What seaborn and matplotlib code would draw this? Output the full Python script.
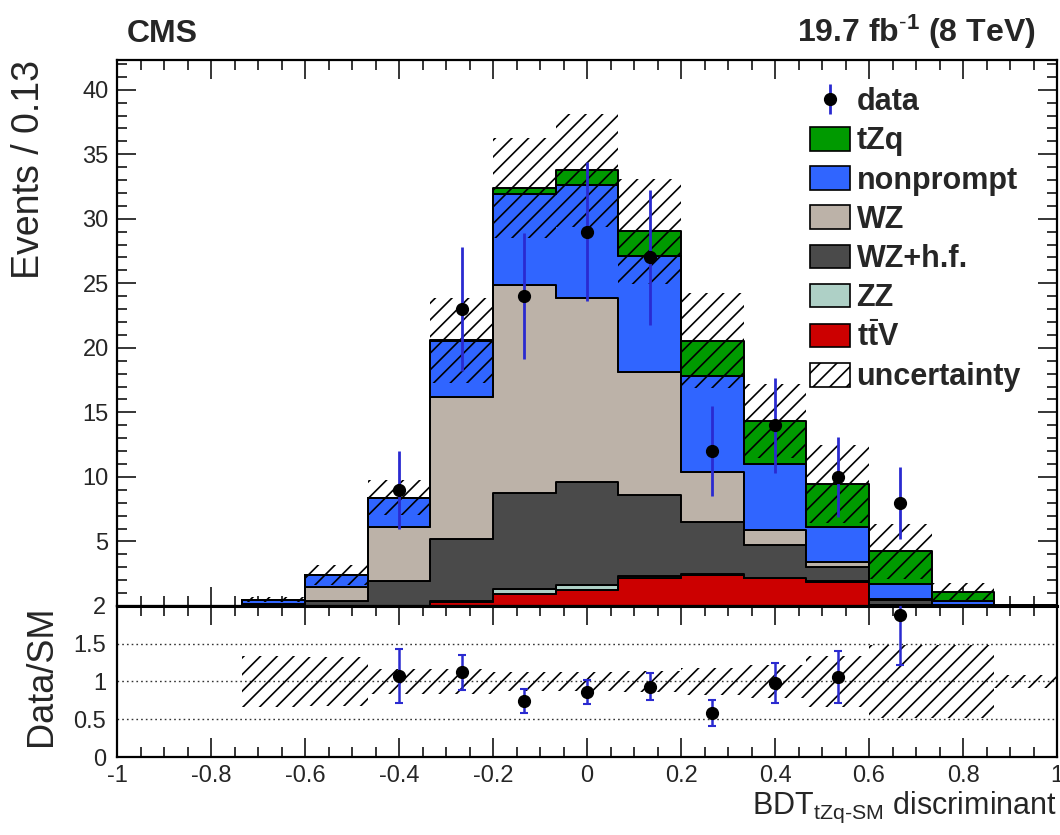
import numpy as np
import pandas as pd
import matplotlib
matplotlib.use("Agg")
import matplotlib.pyplot as plt
import seaborn as sns
from matplotlib.patches import Patch
from matplotlib.ticker import MultipleLocator, FixedLocator, FuncFormatter

# ------------------------------------------------------------------ data
bin_edges = np.linspace(-1.0, 1.0, 16)          # 15 bins of width 0.133
processes = ["tZq", "nonprompt", "WZ", "WZ+h.f.", "ZZ", "ttV"]
legend_labels = ["tZq", "nonprompt", "WZ", "WZ+h.f.", "ZZ",
                 r"$\mathbf{t}\bar{\mathbf{t}}\mathbf{V}$"]

tzq       = [0, 0, 0, 0, 0.04, 0.10, 0.50, 1.15, 1.95, 2.75, 3.30, 3.34, 2.55, 0.74, 0.03]
nonprompt = [0, 0, 0.35, 0.93, 2.22, 4.30, 7.00, 8.70, 9.00, 7.40, 5.10, 2.70, 1.15, 0.31, 0.02]
wz        = [0, 0, 0.10, 1.07, 4.24, 11.00, 16.15, 14.30, 9.50, 3.90, 1.15, 0.35, 0.05, 0, 0]
wz_hf     = [0, 0, 0.05, 0.40, 1.90, 4.85, 7.42, 8.00, 6.30, 4.05, 2.55, 1.15, 0.45, 0.05, 0]
zz        = [0, 0, 0, 0, 0, 0.05, 0.41, 0.40, 0.13, 0.05, 0.03, 0.07, 0, 0, 0]
ttv       = [0, 0, 0, 0, 0, 0.30, 0.92, 1.20, 2.17, 2.40, 2.17, 1.83, 0.05, 0, 0]
rel_unc   = [0, 0, 0.34, 0.32, 0.165, 0.16, 0.12, 0.13, 0.14, 0.18, 0.20, 0.32, 0.50, 0.60, 0.09]

data_counts = [0, 0, 0, 0, 9, 23, 24, 29, 27, 12, 14, 10, 8, 0, 0]
data_err    = [0, 0, 0, 0, 3.0, 4.8, 4.9, 5.4, 5.2, 3.5, 3.7, 3.1, 2.8, 0, 0]

ratio_vals = [np.nan, np.nan, np.nan, np.nan, 1.07, 1.12, 0.74, 0.86, 0.93, 0.58, 0.98, 1.06, 1.88, np.nan, np.nan]
ratio_err  = [0, 0, 0, 0, 0.36, 0.23, 0.16, 0.16, 0.18, 0.17, 0.27, 0.35, 0.66, 0, 0]
ratio_band = [0, 0, 0.34, 0.32, 0.165, 0.16, 0.12, 0.13, 0.14, 0.18, 0.22, 0.34, 0.48, 0.48, 0.09]

x_ticks = [-1, -0.8, -0.6, -0.4, -0.2, 0, 0.2, 0.4, 0.6, 0.8, 1]
y_ticks_top = [5, 10, 15, 20, 25, 30, 35, 40]
y_ticks_bot = [0, 0.5, 1, 1.5, 2]

colors = {"tZq": "#009a00", "nonprompt": "#3065ff", "WZ": "#bcb2a8",
          "WZ+h.f.": "#4a4a4a", "ZZ": "#aed0c6", "ttV": "#cc0000"}
err_blue = "#2a2ad0"

# ------------------------------------------------------------------ style
sns.set_theme(style="ticks")
plt.rcParams["font.family"] = ["Liberation Sans", "DejaVu Sans"]
plt.rcParams["mathtext.fontset"] = "custom"
plt.rcParams["mathtext.rm"] = "Liberation Sans"
plt.rcParams["mathtext.it"] = "Liberation Sans:italic"
plt.rcParams["mathtext.bf"] = "Liberation Sans:bold"
plt.rcParams["axes.unicode_minus"] = False
plt.rcParams["hatch.linewidth"] = 1.2
plt.rcParams["hatch.color"] = "black"

centers = 0.5 * (bin_edges[:-1] + bin_edges[1:])
binw = bin_edges[1] - bin_edges[0]

fig = plt.figure(figsize=(10.6, 8.35), dpi=100)
ax_top = fig.add_axes([0.1104, 0.2743, 0.8868, 0.6538])
ax_bot = fig.add_axes([0.1104, 0.0934, 0.8868, 0.1809])

# ------------------------------------------------------------------ stacked histogram
series = [tzq, nonprompt, wz, wz_hf, zz, ttv]
df = pd.DataFrame({
    "x": np.tile(centers, len(processes)),
    "w": np.concatenate([np.asarray(s, float) for s in series]),
    "process": np.repeat(processes, len(centers)),
})
sns.histplot(data=df, x="x", weights="w", hue="process", hue_order=processes,
             bins=[float(b) for b in bin_edges], multiple="stack", element="step",
             palette=colors, edgecolor="black", linewidth=1.4, alpha=1.0,
             legend=False, ax=ax_top)

total = np.sum([np.asarray(s, float) for s in series], axis=0)
u = np.asarray(rel_unc, float)
m = total > 0
ax_top.bar(centers[m], 2 * total[m] * u[m], bottom=total[m] * (1 - u[m]), width=binw,
           align="center", facecolor="none", edgecolor="black", hatch="//",
           linewidth=0, zorder=3)

dc = np.asarray(data_counts, float)
de = np.asarray(data_err, float)
md = dc > 0
data_h = ax_top.errorbar(centers[md], dc[md], yerr=de[md], fmt="o", color="black",
                         ms=8.5, ecolor=err_blue, elinewidth=2, capsize=0, zorder=5)

ax_top.set_xlim(-1, 1)
ax_top.set_ylim(0, 42.3)
ax_top.set_xlabel("")
ax_top.set_ylabel("Events / 0.13", fontsize=27, loc="top")
ax_top.yaxis.set_label_coords(-0.074, 1.0)
ax_top.xaxis.set_major_locator(FixedLocator(x_ticks))
ax_top.xaxis.set_minor_locator(MultipleLocator(0.05))
ax_top.yaxis.set_major_locator(FixedLocator(y_ticks_top))
ax_top.yaxis.set_minor_locator(MultipleLocator(1))
ax_top.yaxis.set_major_formatter(FuncFormatter(lambda v, p: f"{v:g}"))
ax_top.tick_params(axis="both", which="major", direction="in", length=14, width=1.3,
                   top=True, right=True, bottom=True, left=True, labelsize=17)
ax_top.tick_params(axis="both", which="minor", direction="in", length=7, width=1.3,
                   top=True, right=True, bottom=True, left=True)
ax_top.tick_params(axis="x", labelbottom=False)
ax_top.tick_params(axis="y", pad=6)
for sp in ax_top.spines.values():
    sp.set_linewidth(1.6)
    sp.set_color("black")

# legend
handles = [data_h]
for p in processes:
    handles.append(Patch(facecolor=colors[p], edgecolor="black", linewidth=1.2))
handles.append(Patch(facecolor="white", edgecolor="black", hatch="//", linewidth=1.2))
labels = ["data"] + legend_labels + ["uncertainty"]
leg = ax_top.legend(handles, labels, loc="upper left", bbox_to_anchor=(0.737, 0.95),
                    frameon=False, borderpad=0, borderaxespad=0,
                    handlelength=1.33, handleheight=0.82, labelspacing=0.3,
                    handletextpad=0.2, prop={"size": 22, "weight": "bold"})

# ------------------------------------------------------------------ ratio panel
rb = np.asarray(ratio_band, float)
mu = rb > 0
ax_bot.bar(centers[mu], 2 * rb[mu], bottom=1 - rb[mu], width=binw, align="center",
           facecolor="none", edgecolor="black", hatch="//", linewidth=0, zorder=2)
for yv in [0.5, 1.0, 1.5]:
    ax_bot.axhline(yv, color="#333333", linestyle=(0, (1.2, 2.2)), linewidth=1.0, zorder=1)

rv = np.asarray(ratio_vals, float)
re = np.asarray(ratio_err, float)
mr = ~np.isnan(rv)
ax_bot.errorbar(centers[mr], rv[mr], yerr=re[mr], fmt="o", color="black", ms=8.5,
                ecolor=err_blue, elinewidth=1.8, capsize=3.0, capthick=1.5, zorder=5)

ax_bot.set_xlim(-1, 1)
ax_bot.set_ylim(0, 2)
ax_bot.set_ylabel("Data/SM", fontsize=26, loc="top")
ax_bot.yaxis.set_label_coords(-0.062, 1.0)
ax_bot.set_xlabel(r"BDT$_{\mathregular{tZq\text{-}SM}}$ discriminant", fontsize=22, loc="right")
ax_bot.xaxis.set_label_coords(1.0, -0.22)
ax_bot.xaxis.set_major_locator(FixedLocator(x_ticks))
ax_bot.xaxis.set_minor_locator(MultipleLocator(0.05))
ax_bot.yaxis.set_major_locator(FixedLocator(y_ticks_bot))
fmt = FuncFormatter(lambda v, p: f"{v:g}")
ax_bot.xaxis.set_major_formatter(fmt)
ax_bot.yaxis.set_major_formatter(fmt)
ax_bot.tick_params(axis="x", which="major", direction="in", length=14, width=1.3,
                   top=True, bottom=True, labelsize=17, pad=6)
ax_bot.tick_params(axis="x", which="minor", direction="in", length=7, width=1.3,
                   top=True, bottom=True)
ax_bot.tick_params(axis="y", which="both", length=0, labelsize=17, pad=8)
for sp in ax_bot.spines.values():
    sp.set_linewidth(1.6)
    sp.set_color("black")
ax_bot.spines["top"].set_linewidth(2.2)

# ------------------------------------------------------------------ header text
fig.text(127 / 1060, 1 - 42 / 835, "CMS", fontsize=23, fontweight="bold",
         ha="left", va="baseline")
fig.text(1035 / 1060, 1 - 42 / 835, r"19.7 fb$^{\text{-}\mathbf{1}}$ (8 TeV)", fontsize=23,
         fontweight="bold", ha="right", va="baseline")

fig.savefig("out.png", dpi=100)
